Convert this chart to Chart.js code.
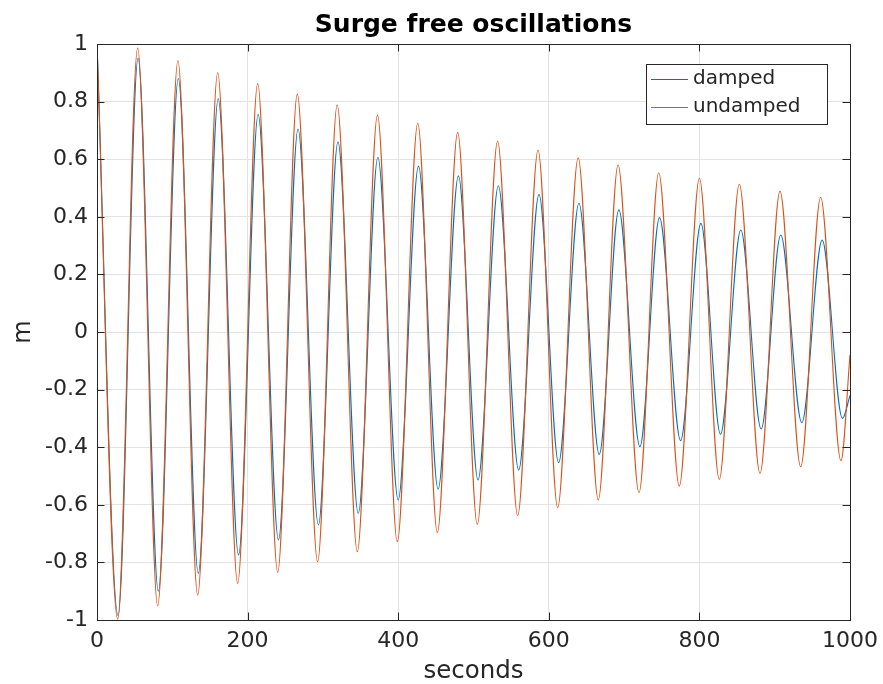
<!DOCTYPE html>
<html>
<head>
<meta charset="utf-8">
<title>Surge free oscillations</title>
<script src="https://cdn.jsdelivr.net/npm/chart.js@4/dist/chart.umd.min.js"></script>
<style>
  html, body { margin: 0; padding: 0; background: #fff; }
  #wrap { width: 883px; height: 684px; }
</style>
</head>
<body>
<div id="wrap"><canvas id="surgeChart" width="883" height="684"></canvas></div>
<script>
// peaks and troughs (seconds, metres)
const undampedTime = [0, 27.5, 54, 80.6, 107.5, 133.7, 160.3, 186.8, 213.4, 240, 266, 293, 319, 345.7,
  372.5, 398.8, 426, 452, 479, 505, 532, 558.7, 585.7, 611.8, 639, 665.7, 692, 719.8, 746, 773.3,
  800, 826.4, 853, 880.5, 907, 934.5, 961, 988, 1000];
const undampedValue = [1.0, -0.997, 0.986, -0.951, 0.942, -0.913, 0.90, -0.873, 0.863, -0.835, 0.826,
  -0.798, 0.788, -0.763, 0.753, -0.728, 0.725, -0.697, 0.693, -0.668, 0.663, -0.638, 0.632, -0.61,
  0.605, -0.583, 0.58, -0.558, 0.553, -0.535, 0.534, -0.512, 0.513, -0.491, 0.489, -0.468, 0.468,
  -0.447, -0.08];

const dampedTime = [0, 28, 54.5, 81.5, 108, 134.5, 161, 188, 214, 241, 267, 294, 320, 347, 373, 400,
  427, 453, 480, 506, 533, 560, 587, 613, 640, 667, 693, 721, 747, 775, 802, 828, 855, 882, 908,
  936, 963, 990, 1000];
const dampedValue = [1.0, -0.985, 0.95, -0.90, 0.88, -0.838, 0.81, -0.774, 0.755, -0.722, 0.705,
  -0.67, 0.66, -0.63, 0.607, -0.583, 0.576, -0.546, 0.542, -0.514, 0.508, -0.479, 0.478, -0.454,
  0.447, -0.425, 0.424, -0.398, 0.397, -0.377, 0.377, -0.355, 0.354, -0.337, 0.337, -0.315, 0.319,
  -0.30, -0.22];

const seriesNames = ['damped', 'undamped'];
const xTicks = [0, 200, 400, 600, 800, 1000];
const yTicks = [-1, -0.8, -0.6, -0.4, -0.2, 0, 0.2, 0.4, 0.6, 0.8, 1];

const BLUE = '#0072bd';
const ORANGE = '#d95319';
const AXIS = '#262626';
const FONT = "'DejaVu Sans', sans-serif";

function toPoints(ts, vs) {
  return ts.map((t, i) => ({ x: t, y: vs[i] }));
}

// matlab style box with inward ticks + legend inside the axes
const axesBox = {
  id: 'axesBox',
  afterDatasetsDraw(chart) {
    const { ctx, chartArea: a, scales } = chart;
    const len = 7.5;
    ctx.save();
    ctx.strokeStyle = AXIS;
    ctx.lineWidth = 1;
    ctx.beginPath();
    xTicks.forEach(v => {
      const px = Math.round(scales.x.getPixelForValue(v)) + 0.5;
      ctx.moveTo(px, a.bottom); ctx.lineTo(px, a.bottom - len);
      ctx.moveTo(px, a.top); ctx.lineTo(px, a.top + len);
    });
    yTicks.forEach(v => {
      const py = Math.round(scales.y.getPixelForValue(v)) + 0.5;
      ctx.moveTo(a.left, py); ctx.lineTo(a.left + len, py);
      ctx.moveTo(a.right, py); ctx.lineTo(a.right - len, py);
    });
    ctx.stroke();
    ctx.strokeRect(Math.round(a.left) + 0.5, Math.round(a.top) + 0.5,
      Math.round(a.right - a.left), Math.round(a.bottom - a.top));

    // legend
    const bx = 646.5, by = 64.5, bw = 181, bh = 60;
    ctx.fillStyle = '#fff';
    ctx.fillRect(bx, by, bw, bh);
    ctx.strokeRect(bx, by, bw, bh);
    const rows = [[seriesNames[0], BLUE, 79.5], [seriesNames[1], ORANGE, 107.5]];
    ctx.font = '20px ' + FONT;
    ctx.textBaseline = 'middle';
    ctx.textAlign = 'left';
    rows.forEach(([name, col, y]) => {
      ctx.strokeStyle = col;
      ctx.beginPath();
      ctx.moveTo(651, y); ctx.lineTo(688, y);
      ctx.stroke();
      ctx.fillStyle = AXIS;
      ctx.fillText(name, 693, y - 1);
    });
    ctx.restore();
  }
};

const ctx = document.getElementById('surgeChart').getContext('2d');

new Chart(ctx, {
  type: 'line',
  data: {
    datasets: [
      {
        label: seriesNames[0],
        data: toPoints(dampedTime, dampedValue),
        borderColor: BLUE,
        borderWidth: 1.1,
        pointRadius: 0,
        cubicInterpolationMode: 'monotone',
        order: 1
      },
      {
        label: seriesNames[1],
        data: toPoints(undampedTime, undampedValue),
        borderColor: ORANGE,
        borderWidth: 1.1,
        pointRadius: 0,
        cubicInterpolationMode: 'monotone',
        order: 0
      }
    ]
  },
  options: {
    responsive: false,
    animation: false,
    layout: { padding: { left: 0, right: 33, top: 0, bottom: 0 } },
    plugins: {
      legend: { display: false },
      tooltip: { enabled: false },
      title: {
        display: true,
        fullSize: false,
        text: 'Surge free oscillations',
        color: '#000',
        font: { family: FONT, size: 25, weight: 'bold', lineHeight: 1.2 },
        padding: { top: 10, bottom: 4 }
      }
    },
    scales: {
      x: {
        type: 'linear',
        min: 0,
        max: 1000,
        afterFit: s => { s.height = 64; s.paddingRight = 0; s.paddingLeft = 0; },
        afterBuildTicks: s => { s.ticks = xTicks.map(v => ({ value: v })); },
        ticks: {
          color: AXIS,
          font: { family: FONT, size: 22 },
          padding: 8,
          maxRotation: 0,
          autoSkip: false,
          callback: v => String(v)
        },
        grid: { color: '#e3e3e3', drawTicks: false },
        border: { display: false },
        title: {
          display: true,
          text: 'seconds',
          color: AXIS,
          font: { family: FONT, size: 24.5, lineHeight: 1 },
          padding: { top: 0, bottom: 0 }
        }
      },
      y: {
        type: 'linear',
        min: -1,
        max: 1,
        afterFit: s => { s.width = 97; },
        afterBuildTicks: s => { s.ticks = yTicks.map(v => ({ value: v })); },
        ticks: {
          color: AXIS,
          font: { family: FONT, size: 22 },
          padding: 9,
          autoSkip: false,
          callback: v => Number(v.toFixed(1)).toString()
        },
        grid: { color: '#e3e3e3', drawTicks: false },
        border: { display: false },
        title: {
          display: true,
          text: 'm',
          color: AXIS,
          font: { family: FONT, size: 24, lineHeight: 1 },
          padding: { top: 12, bottom: 0 }
        }
      }
    }
  },
  plugins: [axesBox]
});
</script>
</body>
</html>
